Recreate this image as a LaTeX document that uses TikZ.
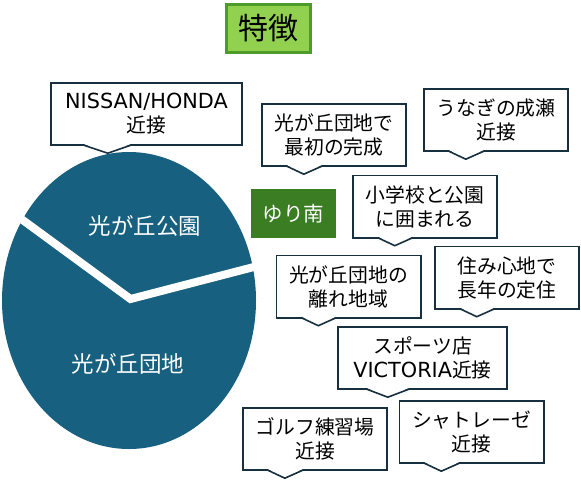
\documentclass[tikz,border=0pt]{standalone}
\usepackage{fontspec}
\setmainfont{Noto Sans CJK JP}
\newfontfamily\lat{DejaVu Sans}[Scale=1.05]
\usetikzlibrary{calc}
\definecolor{piecol}{HTML}{176080}
\definecolor{navy}{HTML}{17303F}
\definecolor{titlefill}{HTML}{92D050}
\definecolor{titleborder}{HTML}{4E9B2C}
\definecolor{yurifill}{HTML}{3B7D23}
\newcommand{\calloutptr}[4]{%
  \fill[white] ($(#1.south west)+(#2,-1.2)$) -- ($(#1.south west)+(#3,8)$) -- ($(#1.south west)+(#4,-1.2)$) -- cycle;
  \draw[ptr] ($(#1.south west)+(#2,0)$) -- ($(#1.south west)+(#3,8)$) -- ($(#1.south west)+(#4,0)$);}
\begin{document}
\begin{tikzpicture}[x=1pt,y=-1pt,
  callout/.style={draw=navy,line width=1.6pt,fill=white,inner sep=0pt,outer sep=0pt,
    minimum width=144.4pt,minimum height=62.4pt,align=center,
    font=\fontsize{19.8}{24}\selectfont},
  ptr/.style={draw=navy,line width=1.6pt,line join=miter},
  piegap/.style={draw=white,line width=8pt,line join=miter},
  pielabel/.style={text=white,font=\fontsize{22.5}{27}\selectfont},
  titlebox/.style={draw=titleborder,fill=titlefill,line width=3pt,minimum width=84pt,
    minimum height=48pt,inner sep=0pt,font=\fontsize{30}{36}\selectfont},
  yuribox/.style={fill=yurifill,minimum width=85pt,minimum height=49pt,inner sep=0pt,
    text=white,font=\fontsize{20.5}{24}\selectfont}]
\useasboundingbox (0,0) rectangle (581,480);
% pie
\fill[piecol] (129,300.5) ellipse [x radius=127, y radius=148.5];
\coordinate (gl) at (0,203.4);
\coordinate (gc) at (130.5,299);
\coordinate (gr) at (275,261.5);
\draw[piegap] (gl) -- (gc) -- (gr);
\node[pielabel] (park) at (145,226) {光が丘公園};
\node[pielabel] (danchi) at (128,364) {光が丘団地};
% title and label
\node[titlebox] (title) at (268.5,28.5) {特徴};
\node[yuribox] (yuri) at (293.5,213.5) {ゆり南};
% callouts
\node[callout,minimum width=191.4pt] (nissan) at (146.5,114) {{\lat NISSAN/HONDA}\\近接};
\calloutptr{nissan}{33}{57}{80}
\node[callout] (first) at (334,135) {光が丘団地で\\最初の完成};
\calloutptr{first}{25}{42}{60}
\node[callout] (unagi) at (496,120) {うなぎの成瀬\\近接};
\calloutptr{unagi}{25}{42}{60}
\node[callout] (school) at (425,206.5) {小学校と公園\\に囲まれる};
\calloutptr{school}{25}{42}{60}
\node[callout] (remote) at (348.5,286.5) {光が丘団地の\\離れ地域};
\calloutptr{remote}{25}{42}{60}
\node[callout] (live) at (507,277.5) {住み心地で\\長年の定住};
\calloutptr{live}{25}{42}{60}
\node[callout,minimum width=169.4pt] (sports) at (422.5,358) {スポーツ店\\{\lat VICTORIA}近接};
\calloutptr{sports}{29}{50}{71}
\node[callout] (golf) at (315,439) {ゴルフ練習場\\近接};
\calloutptr{golf}{25}{42}{60}
\node[callout] (chateraise) at (471.5,432) {シャトレーゼ\\近接};
\calloutptr{chateraise}{25}{42}{60}
\end{tikzpicture}
\end{document}
